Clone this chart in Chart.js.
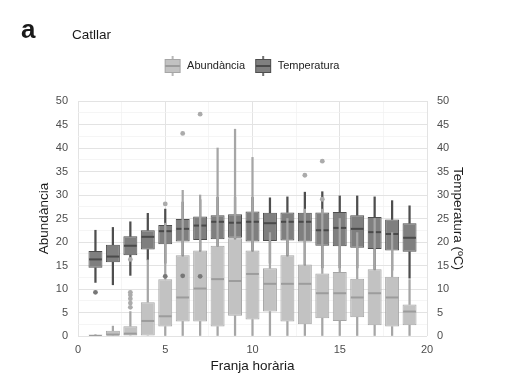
<!DOCTYPE html>
<html>
<head>
<meta charset="utf-8">
<script src="https://cdn.jsdelivr.net/npm/chart.js@4/dist/chart.umd.min.js"></script>
<style>
  html, body { margin: 0; padding: 0; background: #fff; }
  #wrap { position: relative; width: 505px; height: 379px; }
  #chart { position: absolute; left: 0; top: 0; }
  #tag { position: absolute; left: 21px; top: 16px; font: bold 26px 'Liberation Sans', Arial, sans-serif; line-height: 1; color: #1a1a1a; }
  #site { position: absolute; left: 72px; top: 28px; font: 13.5px 'Liberation Sans', Arial, sans-serif; line-height: 1; color: #1a1a1a; }
</style>
</head>
<body>
<div id="wrap">
  <canvas id="chart" width="505" height="379"></canvas>
  <div id="tag">a</div>
  <div id="site">Catllar</div>
</div>
<script>
// hour slots
const hours = [1, 2, 3, 4, 5, 6, 7, 8, 9, 10, 11, 12, 13, 14, 15, 16, 17, 18, 19]

// Abundància: whisker ends, quartiles, median
const abLow  = [0, 0, 0, 0, 0, 0, 0, 0, 0, 0, 0, 0, 0, 0, 0, 0, 0, 0, 0]
const abQ1   = [0, 0, 0, 0, 2.0, 3.1, 3.1, 2.0, 4.3, 3.5, 5.2, 3.1, 2.5, 3.8, 3.2, 4.0, 2.3, 2.0, 2.3]
const abMed  = [0, 0.3, 0.5, 3.2, 4.2, 8.2, 10.1, 12.1, 11.7, 13.2, 11.1, 11.1, 11.1, 9.1, 9.1, 8.2, 9.1, 8.2, 5.2]
const abQ3   = [0.3, 1.1, 2.1, 7.2, 12.1, 17.2, 18.2, 19.2, 20.8, 18.2, 14.4, 17.2, 15.2, 13.3, 13.6, 12.2, 14.2, 12.6, 6.7]
const abHigh = [0.3, 2.1, 5.2, 16.2, 24, 31, 30, 40, 44, 38, 22, 25, 27, 27, 25, 22, 25, 22, 12]
const abOutHour = [3, 3, 3, 3, 3, 3, 5, 6, 7, 13, 14, 14]
const abOutVal  = [6.1, 7.0, 7.9, 8.7, 9.3, 16.3, 28.1, 43.1, 47.2, 34.2, 37.2, 29.1]

// Temperatura (ºC)
const tempLow  = [11.4, 10.9, 12.9, 16.2, 15.5, 15, 15, 15, 15.5, 15, 15.5, 15.5, 15, 14.5, 14.5, 14.5, 14, 14, 12.3]
const tempQ1   = [14.5, 15.7, 17.2, 18.4, 19.5, 20.1, 20.4, 20.6, 20.9, 20.1, 20.2, 20.3, 20.1, 19.2, 19.1, 18.8, 18.5, 18.2, 17.9]
const tempMed  = [16.3, 16.9, 19.2, 21.1, 22.3, 22.8, 23.5, 24.3, 24.1, 24.3, 24.0, 24.3, 24.3, 22.5, 23.0, 22.8, 22.1, 21.7, 20.9]
const tempQ3   = [18.1, 19.4, 21.2, 22.5, 23.6, 24.9, 25.4, 25.7, 25.9, 26.5, 26.2, 26.3, 26.2, 26.3, 26.4, 25.7, 25.3, 24.8, 24.0]
const tempHigh = [22.5, 23.1, 24.3, 26.1, 27.0, 28.5, 29, 29.5, 29.5, 29.5, 29.4, 29.6, 30.6, 30.7, 29.8, 29.8, 29.6, 28.8, 27.7]
const tempOutHour = [1, 5, 6, 7]
const tempOutVal  = [9.3, 12.7, 12.8, 12.7]

const FONT = "'Liberation Sans', Arial, sans-serif"
const AB = { fill: '#c2c2c2', edge: '#a6a6a6', mid: '#9c9c9c', dot: '#ababab' }
const TE = { fill: '#7f7f7f', edge: '#4e4e4e', mid: '#4a4a4a', dot: '#777777' }

const pts = (xs, ys) => xs.map((h, i) => ({ x: h, y: ys[i] }))
const span = (a, b) => hours.map((h, i) => ({ x: h, y: [a[i], b[i]] }))

function boxDatasets(label, lo, q1, med, q3, hi, c) {
    return [
        {
            type: 'line', label: label + ' mediana', data: pts(hours, med), showLine: false,
            pointStyle: 'line', pointRadius: 6.4, pointHoverRadius: 6.4,
            pointBorderWidth: 2, pointBorderColor: c.mid
        },
        {
            type: 'bar', label: label, data: span(q1, q3), grouped: false,
            barPercentage: 0.8, categoryPercentage: 1,
            backgroundColor: c.fill, borderColor: c.edge, borderWidth: 1, borderSkipped: false
        },
        {
            type: 'bar', label: label + ' lo', data: span(lo, q1), grouped: false,
            barThickness: 1.6, backgroundColor: c.edge, borderWidth: 0
        },
        {
            type: 'bar', label: label + ' hi', data: span(q3, hi), grouped: false,
            barThickness: 1.6, backgroundColor: c.edge, borderWidth: 0
        }
    ]
}

function outlierDataset(label, xs, ys, color) {
    return {
        type: 'line', label: label, data: pts(xs, ys), showLine: false,
        pointStyle: 'circle', pointRadius: 2.4, pointHoverRadius: 2.4,
        pointBackgroundColor: color, pointBorderWidth: 0
    }
}

// little boxplot glyph for the legend
function legendIcon(c) {
    const cv = document.createElement('canvas')
    cv.width = 18
    cv.height = 20
    const g = cv.getContext('2d')
    g.fillStyle = c.edge
    g.fillRect(8.2, 0, 1.6, 20)
    g.fillStyle = c.fill
    g.fillRect(1, 3, 16, 14)
    g.strokeStyle = c.edge
    g.lineWidth = 1
    g.strokeRect(1.5, 3.5, 15, 13)
    g.strokeStyle = c.mid
    g.lineWidth = 2
    g.beginPath()
    g.moveTo(1.5, 10)
    g.lineTo(16.5, 10)
    g.stroke()
    return cv
}

const datasets = [
    outlierDataset('Temperatura out', tempOutHour, tempOutVal, TE.dot),
    outlierDataset('Abundància out', abOutHour, abOutVal, AB.dot),
    ...boxDatasets('Abundància', abLow, abQ1, abMed, abQ3, abHigh, AB),
    ...boxDatasets('Temperatura', tempLow, tempQ1, tempMed, tempQ3, tempHigh, TE)
]

const major = v => Math.abs(v % 5) < 1e-9
const gridOpts = {
    drawTicks: false,
    color: ctx => (ctx.tick && major(ctx.tick.value)) ? '#e3e3e3' : '#f1f1f1',
    lineWidth: ctx => (ctx.tick && major(ctx.tick.value)) ? 1 : 0.7
}

const legendPad = {
    id: 'legendPad',
    beforeUpdate(chart) {
        const lg = chart.legend
        if (lg && !lg._padded) {
            const fit = lg.fit
            lg.fit = function () {
                fit.call(this)
                this.height += 19.5
            }
            lg._padded = true
        }
    }
}

new Chart(document.getElementById('chart'), {
    type: 'bar',
    data: { datasets },
    plugins: [legendPad],
    options: {
        responsive: false,
        animation: false,
        events: [],
        layout: { padding: { left: 28, right: 30, top: 51.5, bottom: 4 } },
        plugins: {
            tooltip: { enabled: false },
            legend: {
                position: 'top',
                labels: {
                    usePointStyle: true,
                    pointStyleWidth: 18,
                    padding: 9,
                    color: '#222',
                    font: { family: FONT, size: 11 },
                    generateLabels: () => [
                        { text: 'Abundància', pointStyle: legendIcon(AB), fontColor: '#222', lineWidth: 0, strokeStyle: 'rgba(0,0,0,0)', fillStyle: 'rgba(0,0,0,0)', hidden: false, datasetIndex: 3 },
                        { text: 'Temperatura', pointStyle: legendIcon(TE), fontColor: '#222', lineWidth: 0, strokeStyle: 'rgba(0,0,0,0)', fillStyle: 'rgba(0,0,0,0)', hidden: false, datasetIndex: 7 }
                    ]
                }
            }
        },
        scales: {
            x: {
                type: 'linear',
                min: 0,
                max: 20,
                offset: false,
                grid: { ...gridOpts, offset: false },
                border: { display: false },
                ticks: {
                    stepSize: 2.5,
                    autoSkip: false,
                    maxRotation: 0,
                    padding: 7,
                    color: '#4d4d4d',
                    font: { family: FONT, size: 11 },
                    callback: v => major(v) ? String(v) : ''
                },
                title: {
                    display: true,
                    text: 'Franja horària',
                    color: '#1a1a1a',
                    font: { family: FONT, size: 13.5 },
                    padding: { top: 0, bottom: 1 }
                },
                afterFit: s => { s.height = 39 }
            },
            y: {
                position: 'left',
                min: 0,
                max: 50,
                grid: gridOpts,
                border: { display: false },
                ticks: {
                    stepSize: 2.5,
                    autoSkip: false,
                    padding: 10,
                    color: '#4d4d4d',
                    font: { family: FONT, size: 11 },
                    callback: v => major(v) ? String(v) : ''
                },
                title: {
                    display: true,
                    text: 'Abundància',
                    color: '#1a1a1a',
                    font: { family: FONT, size: 13.5 },
                    padding: { top: 8.6, bottom: 0 }
                },
                afterFit: s => { s.width = 50 }
            },
            y2: {
                position: 'right',
                min: 0,
                max: 50,
                grid: { display: false, drawTicks: false },
                border: { display: false },
                ticks: {
                    stepSize: 5,
                    padding: 10,
                    color: '#4d4d4d',
                    font: { family: FONT, size: 11 }
                },
                title: {
                    display: true,
                    text: 'Temperatura (ºC)',
                    color: '#1a1a1a',
                    font: { family: FONT, size: 13.5 },
                    padding: { top: 8.9, bottom: 0 }
                },
                afterFit: s => { s.width = 48 }
            }
        }
    }
})
</script>
</body>
</html>
